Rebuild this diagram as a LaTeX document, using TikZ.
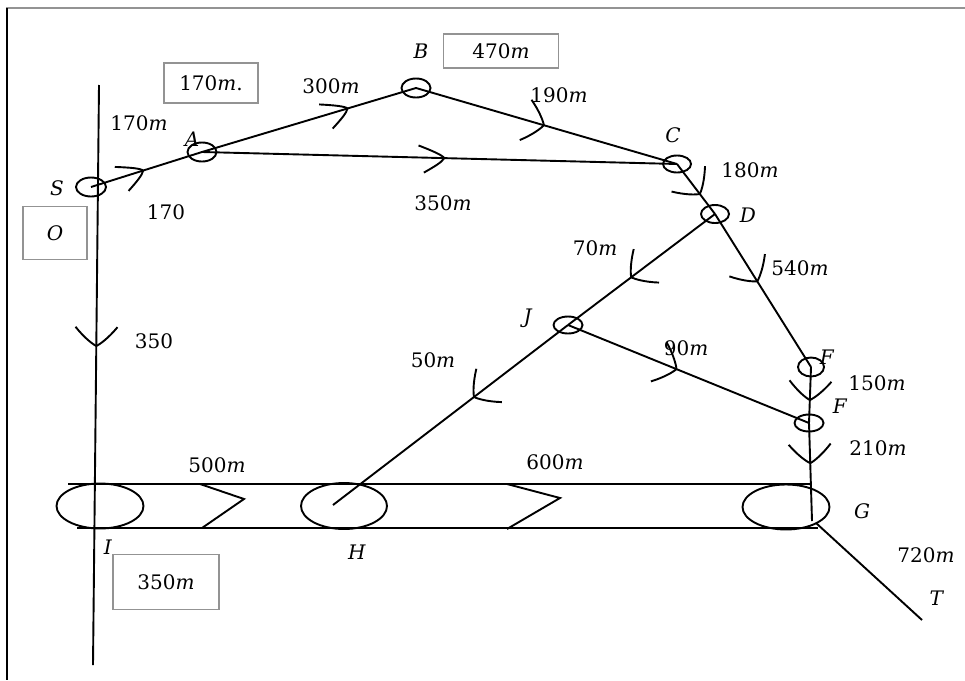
\documentclass[tikz,border=0pt]{standalone}
\usepackage{fontspec}
\setmainfont{DejaVu Serif}
\usetikzlibrary{shapes.geometric,decorations.markings}
\newcommand{\mi}[1]{\textit{#1}}
\tikzset{
  ln/.style={line width=1.9pt, black},
  ring/.style 2 args={draw, ellipse, line width=1.9pt, minimum width=#1, minimum height=#2, inner sep=0pt},
  lbl/.style={font=\fontsize{20}{24}\selectfont, inner sep=0pt},
  valbox/.style 2 args={draw=gray!85, line width=1.5pt, minimum width=#1, minimum height=#2, inner sep=0pt, font=\fontsize{20}{24}\selectfont},
  cupmark/.style={postaction={decorate}, decoration={markings, mark=at position #1 with {\draw[line width=1.9pt] (-19pt,21pt) .. controls (-8pt,12pt) and (-2pt,4pt) .. (0pt,0pt) .. controls (-2pt,-4pt) and (-8pt,-12pt) .. (-19pt,-21pt);}}},
  sharpmark/.style={postaction={decorate}, decoration={markings, mark=at position #1 with {\draw[line width=1.9pt] (-26pt,12pt) .. controls (-12pt,7pt) and (-2pt,3pt) .. (0pt,0pt) .. controls (-2pt,-4pt) and (-10pt,-9pt) .. (-20pt,-15pt);}}}
}
\begin{document}
\begin{tikzpicture}[x=1pt,y=-1pt]
\useasboundingbox (0,0) rectangle (965,680);
% frame
\draw[gray!85, line width=2.2pt] (6,8) -- (965,8);
\draw[black, line width=1.6pt] (7,8) -- (7,680);

% junction rings
\node[ring={30}{19}] (S) at (91,187) {};
\node[ring={29}{19}] (A) at (202,152) {};
\node[ring={29}{19}] (B) at (416,88) {};
\node[ring={28}{17}] (C) at (677,164) {};
\node[ring={28}{18}] (D) at (715,214) {};
\node[ring={29}{17}] (J) at (568,325) {};
\node[ring={26}{19}] (F1) at (811,367) {};
\node[ring={29}{17}] (F2) at (809,423) {};
\node[ring={87}{45}] (I) at (100,506) {};
\node[ring={86}{46}] (H) at (344,506) {};
\node[ring={87}{45}] (G) at (786,507) {};

% free ends
\coordinate (topL) at (99,85);
\coordinate (botL) at (93,665);
\coordinate (Hend) at (333,505);
\coordinate (Gv) at (812,521);
\coordinate (Gs) at (816,523);
\coordinate (Tend) at (922,620);
\coordinate (bandTL) at (68,484);
\coordinate (bandTR) at (812,484);
\coordinate (bandBL) at (77,528);
\coordinate (bandBR) at (818,528);

% connectors
\draw[ln, cupmark=0.45] (topL) -- (botL);
\draw[ln, sharpmark=0.47] (S.center) -- (A.center);
\draw[ln, sharpmark=0.68] (A.center) -- (B.center);
\draw[ln, sharpmark=0.51] (A.center) -- (C.center);
\draw[ln, cupmark=0.49] (B.center) -- (C.center);
\draw[ln, cupmark=0.6] (C.center) -- (D.center);
\draw[ln, cupmark=0.44] (D.center) -- (F1.center);
\draw[ln, cupmark=0.57] (D.center) -- (J.center);
\draw[ln, cupmark=0.40] (J.center) -- (Hend);
\draw[ln, cupmark=0.45] (J.center) -- (F2.center);
\draw[ln, cupmark=0.59] (F1.center) -- (F2.center);
\draw[ln, cupmark=0.41] (F2.center) -- (Gv);
\draw[ln] (Gs) -- (Tend);

% band
\draw[ln] (bandTL) -- (bandTR);
\draw[ln] (bandBL) -- (bandBR);
\draw[ln] (200,484) -- (244,499) -- (202,528);
\draw[ln] (507,484) -- (560,498) -- (507,529);

% letter labels
\node[lbl] (lS) at (57,188) {\mi{S}};
\node[lbl] (lA) at (192,139) {\mi{A}};
\node[lbl] (lB) at (421,51) {\mi{B}};
\node[lbl] (lC) at (673,135) {\mi{C}};
\node[lbl] (lD) at (748,215) {\mi{D}};
\node[lbl] (lJ) at (528,318) {\mi{J}};
\node[lbl] (lF1) at (827,357) {\mi{F}};
\node[lbl] (lF2) at (840,406) {\mi{F}};
\node[lbl] (lG) at (862,511) {\mi{G}};
\node[lbl] (lH) at (357,552) {\mi{H}};
\node[lbl] (lI) at (108,547) {\mi{I}};
\node[lbl] (lT) at (937,598) {\mi{T}};

% distance labels
\node[lbl] (d1) at (139,123) {170\mi{m}};
\node[lbl] (d2) at (166,212) {170};
\node[lbl] (d3) at (331,86) {300\mi{m}};
\node[lbl] (d4) at (559,95) {190\mi{m}};
\node[lbl] (d5) at (443,203) {350\mi{m}};
\node[lbl] (d6) at (750,170) {180\mi{m}};
\node[lbl] (d7) at (800,268) {540\mi{m}};
\node[lbl] (d8) at (595,248) {70\mi{m}};
\node[lbl] (d9) at (154,341) {350};
\node[lbl] (d10) at (433,360) {50\mi{m}};
\node[lbl] (d11) at (686,348) {90\mi{m}};
\node[lbl] (d12) at (877,383) {150\mi{m}};
\node[lbl] (d13) at (878,448) {210\mi{m}};
\node[lbl] (d14) at (217,465) {500\mi{m}};
\node[lbl] (d15) at (555,462) {600\mi{m}};
\node[lbl] (d16) at (926,555) {720\mi{m}};

% boxes
\node[valbox={94}{40}] (bx1) at (211,83) {170\mi{m}.};
\node[valbox={115}{34}] (bx2) at (501,51) {470\mi{m}};
\node[valbox={64}{53}] (bx3) at (55,233) {\mi{O}};
\node[valbox={106}{55}] (bx4) at (166,582) {350\mi{m}};
\end{tikzpicture}
\end{document}
